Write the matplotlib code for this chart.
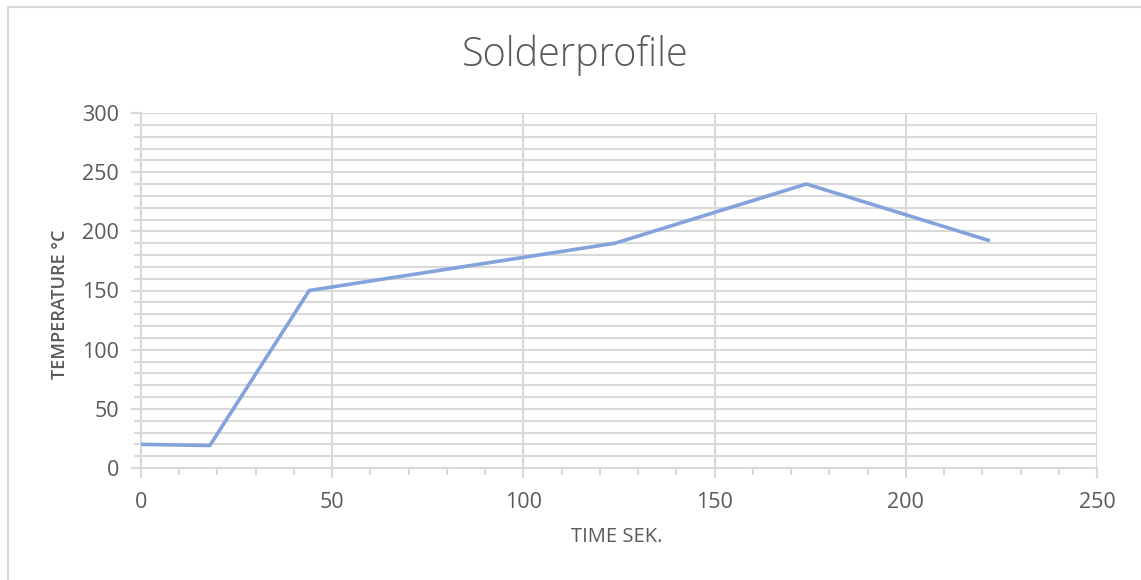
import matplotlib
matplotlib.use("Agg")
import matplotlib.pyplot as plt
from matplotlib.patches import Rectangle
from matplotlib.ticker import MultipleLocator

time_s = [0, 18, 44, 124, 174, 222]
temp_c = [20, 19, 150, 190, 240, 192]

title = "Solderprofile"
xlabel = "TIME SEK."
ylabel = "TEMPERATURE °C"

plt.rcParams["font.family"] = ["Open Sans", "DejaVu Sans"]

grid_col = "#d9d9d9"
text_col = "#595959"
W, H = 1141, 580

fig = plt.figure(figsize=(W / 100, H / 100), dpi=100)
ax = fig.add_axes([141 / W, 1 - 468 / H, 956 / W, 355 / H])

# chart border (only top and left are inside the picture)
fig.patches.append(Rectangle((8 / W, -0.1), 1.2, 1 - 7 / H + 0.1,
                             transform=fig.transFigure, fill=False,
                             edgecolor=grid_col, linewidth=1.5))

ax.plot(time_s, temp_c, color="#84a3dc", linewidth=2.6,
        solid_joinstyle="round", solid_capstyle="butt", zorder=3)

ax.set_xlim(0, 250)
ax.set_ylim(0, 300)
ax.xaxis.set_major_locator(MultipleLocator(50))
ax.xaxis.set_minor_locator(MultipleLocator(10))
ax.yaxis.set_major_locator(MultipleLocator(50))
ax.yaxis.set_minor_locator(MultipleLocator(10))

ax.grid(which="major", axis="both", color=grid_col, linewidth=1.5)
ax.grid(which="minor", axis="y", color=grid_col, linewidth=1.5)
ax.set_axisbelow(True)

for side in ["top", "right"]:
    ax.spines[side].set_visible(False)
for side in ["left", "bottom"]:
    ax.spines[side].set_color(grid_col)
    ax.spines[side].set_linewidth(1.5)

ax.tick_params(which="major", length=7, width=1.5, color=grid_col,
               labelcolor=text_col, labelsize=15.5)
ax.tick_params(which="minor", length=5, width=1.5, color=grid_col)
ax.tick_params(axis="x", which="major", pad=10)
ax.tick_params(axis="y", which="major", pad=9)

fig.text(575 / W, 1 - 55 / H, title, fontsize=28.5, color=text_col,
         fontweight="light", ha="center", va="center")
fig.text(617 / W, 1 - 537 / H, xlabel, fontsize=14.5, color=text_col,
         ha="center", va="center")
fig.text(60 / W, 1 - 304 / H, ylabel, fontsize=13, color=text_col,
         fontweight="semibold", rotation=90, ha="center", va="center")

fig.savefig("out.png", dpi=100)
